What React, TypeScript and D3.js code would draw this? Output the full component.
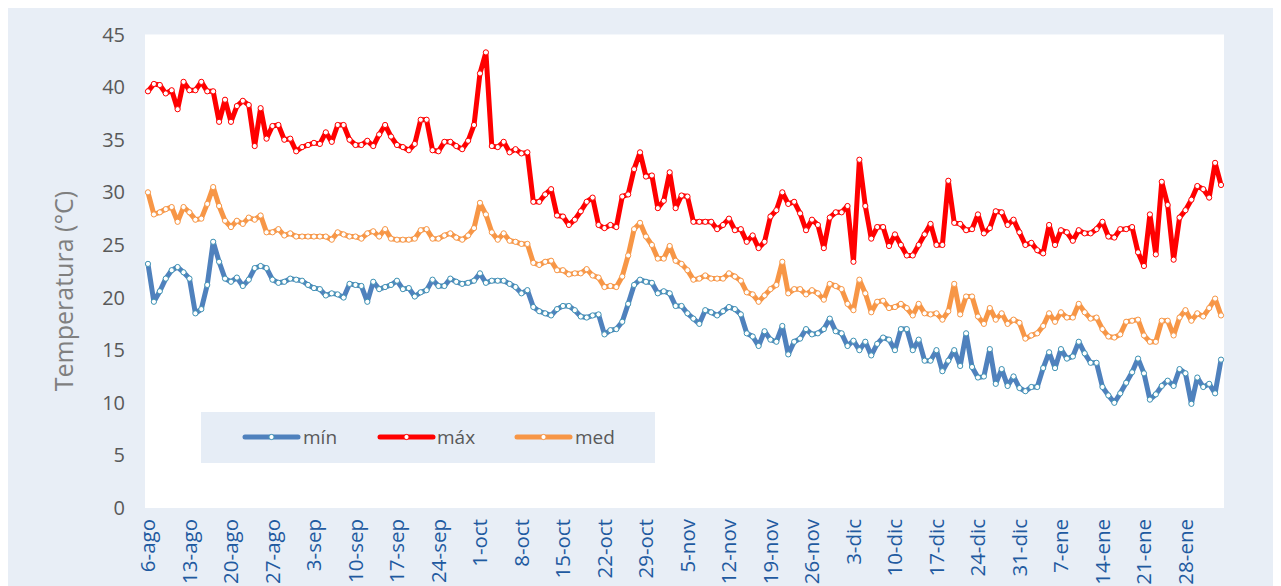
import * as d3 from "d3";

// temperaturas diarias, del 6-ago al 3-feb (182 días)
const minT = [
  23.2, 19.6, 20.6, 21.8, 22.6, 22.9, 22.4, 21.8, 18.5, 18.9, 21.2, 25.3, 23.4, 21.8, 21.5, 21.9, 21.1, 21.7, 22.8, 23.0, 22.8, 21.7, 21.4, 21.5, 21.8, 21.7, 21.6,
  21.2, 20.9, 20.8, 20.2, 20.4, 20.3, 20.0, 21.3, 21.2, 21.1, 19.6, 21.5, 20.8, 21.0, 21.2, 21.6, 20.8, 20.9, 20.1, 20.5, 20.7, 21.7, 21.1, 21.1, 21.8, 21.5,
  21.3, 21.4, 21.6, 22.3, 21.4, 21.6, 21.6, 21.6, 21.3, 21.0, 20.4, 20.7, 19.1, 18.7, 18.5, 18.3, 18.9, 19.2, 19.2, 18.8, 18.2, 18.1, 18.3, 18.4, 16.5, 16.9,
  17.0, 17.7, 19.4, 21.2, 21.7, 21.5, 21.4, 20.4, 20.6, 20.4, 19.2, 19.2, 18.5, 18.0, 17.5, 18.8, 18.6, 18.3, 18.7, 19.1, 18.9, 18.4, 16.6, 16.3, 15.4, 16.8,
  16.0, 15.8, 17.3, 14.6, 15.8, 16.1, 17.0, 16.5, 16.6, 17.0, 18.0, 16.8, 16.6, 15.4, 15.9, 15.0, 15.8, 14.5, 15.6, 16.2, 16.0, 15.0, 17.0, 17.0, 15.0, 16.0,
  14.0, 14.0, 15.0, 13.0, 14.0, 15.0, 13.5, 16.6, 13.4, 12.4, 12.5, 15.1, 11.8, 13.2, 11.6, 12.5, 11.4, 11.1, 11.5, 11.5, 13.3, 14.8, 13.3, 15.1, 14.2, 14.4,
  15.8, 14.7, 13.8, 13.8, 11.5, 10.7, 10.0, 10.9, 11.9, 12.9, 14.2, 12.8, 10.3, 10.8, 11.6, 12.1, 11.6, 13.2, 12.8, 9.9, 12.4, 11.5, 11.8, 10.9, 14.1,
];

const maxT = [
  39.6, 40.3, 40.2, 39.4, 39.7, 37.9, 40.5, 39.7, 39.7, 40.5, 39.6, 39.6, 36.7, 38.8, 36.7, 38.2, 38.7, 38.3, 34.4, 38.0, 35.1, 36.3, 36.4, 35.0, 35.1, 33.9, 34.3,
  34.5, 34.7, 34.6, 35.7, 34.8, 36.4, 36.4, 35.0, 34.5, 34.5, 34.9, 34.4, 35.5, 36.4, 35.3, 34.5, 34.3, 34.0, 34.6, 36.9, 36.9, 34.0, 33.9, 34.8, 34.8, 34.4,
  34.1, 34.9, 36.4, 41.3, 43.3, 34.4, 34.3, 34.8, 33.8, 34.1, 33.7, 33.8, 29.1, 29.1, 29.8, 30.3, 27.8, 27.7, 26.9, 27.4, 28.2, 29.1, 29.5, 26.9, 26.6, 26.9,
  26.7, 29.6, 29.8, 32.2, 33.8, 31.5, 31.6, 28.5, 29.2, 31.9, 28.5, 29.7, 29.6, 27.2, 27.2, 27.2, 27.2, 26.5, 26.9, 27.5, 26.4, 26.5, 25.3, 25.9, 24.7, 25.3,
  27.7, 28.3, 30.0, 28.9, 29.1, 28.0, 26.4, 27.4, 26.9, 24.7, 27.6, 28.1, 28.1, 28.7, 23.4, 33.1, 28.7, 25.6, 26.7, 26.7, 24.9, 26.0, 25.0, 24.0, 24.0, 25.0,
  26.0, 27.0, 25.0, 25.0, 31.1, 27.1, 27.0, 26.4, 26.5, 27.9, 26.1, 26.6, 28.2, 28.1, 26.9, 27.4, 26.2, 25.0, 25.2, 24.5, 24.2, 26.9, 25.0, 26.4, 26.2, 25.4,
  26.4, 26.1, 26.1, 26.5, 27.2, 25.8, 25.7, 26.5, 26.5, 26.7, 24.3, 23.0, 27.9, 24.1, 31.0, 28.8, 23.6, 27.6, 28.3, 29.3, 30.6, 30.3, 29.5, 32.8, 30.7,
];

const medT = [
  30.0, 27.9, 28.1, 28.4, 28.6, 27.2, 28.6, 28.1, 27.4, 27.5, 28.9, 30.5, 28.7, 27.3, 26.7, 27.3, 27.0, 27.6, 27.4, 27.8, 26.2, 26.2, 26.5, 25.9, 26.1, 25.8, 25.8,
  25.8, 25.8, 25.8, 25.8, 25.5, 26.2, 26.0, 25.8, 25.8, 25.6, 26.1, 26.3, 25.8, 26.5, 25.6, 25.5, 25.5, 25.5, 25.6, 26.4, 26.5, 25.6, 25.6, 25.9, 26.1, 25.7,
  25.5, 25.9, 26.6, 29.0, 27.9, 26.2, 25.5, 26.1, 25.4, 25.3, 25.1, 25.1, 23.3, 23.1, 23.4, 23.5, 22.6, 22.6, 22.2, 22.3, 22.3, 22.7, 22.1, 21.9, 21.0, 21.1,
  21.0, 22.0, 24.0, 26.5, 27.1, 25.8, 25.0, 23.7, 23.7, 24.9, 23.5, 23.2, 22.6, 21.7, 21.8, 22.1, 21.8, 21.8, 21.8, 22.3, 22.0, 21.6, 20.5, 20.3, 19.6, 20.2,
  20.8, 21.2, 23.4, 20.4, 20.8, 20.8, 20.3, 20.7, 20.4, 19.8, 21.3, 21.1, 20.8, 19.4, 18.8, 21.7, 20.4, 18.6, 19.6, 19.7, 19.0, 19.1, 19.4, 19.0, 18.3, 19.4,
  18.5, 18.4, 18.5, 17.9, 18.7, 21.3, 18.4, 20.1, 20.1, 18.2, 17.5, 19.0, 17.9, 18.5, 17.5, 17.9, 17.6, 16.1, 16.4, 16.6, 17.3, 18.5, 17.7, 18.6, 18.1, 18.1,
  19.4, 18.6, 18.0, 18.1, 17.0, 16.3, 16.2, 16.5, 17.7, 17.8, 17.9, 16.4, 15.8, 15.8, 17.8, 17.8, 16.4, 18.1, 18.8, 17.8, 18.5, 18.2, 19.0, 19.9, 18.3,
];

// una etiqueta cada 7 días
const tickLabels = [
  "6-ago", "13-ago", "20-ago", "27-ago", "3-sep", "10-sep", "17-sep", "24-sep", "1-oct",
  "8-oct", "15-oct", "22-oct", "29-oct", "5-nov", "12-nov", "19-nov", "26-nov", "3-dic",
  "10-dic", "17-dic", "24-dic", "31-dic", "7-ene", "14-ene", "21-ene", "28-ene",
];

const yTicks = [0, 5, 10, 15, 20, 25, 30, 35, 40, 45];

const series = [
  { name: "mín", values: minT, color: "#4f81bd", marker: "#3f93b4" },
  { name: "máx", values: maxT, color: "#ff0000", marker: "#ff0000" },
  { name: "med", values: medT, color: "#f79646", marker: "#f79646" },
];

const W = 1273;
const H = 578;
const plot = { left: 137, right: 1216, top: 26.5, bottom: 500 };
const FONT = "'Open Sans', 'Liberation Sans', sans-serif";

export default function App() {
  const days = d3.range(minT.length);

  const x = d3
    .scaleBand<number>()
    .domain(days)
    .range([plot.left, plot.right]);
  const cx = (i: number) => (x(i) ?? 0) + x.bandwidth() / 2;

  const y = d3.scaleLinear().domain([0, 45]).range([plot.bottom, plot.top]);

  const line = d3
    .line<number>()
    .x((_, i) => cx(i))
    .y((d) => y(d));

  const legendItems = [
    { x: 237, tx: 295 },
    { x: 372, tx: 429 },
    { x: 509, tx: 567 },
  ];

  return (
    <svg width={W} height={H} style={{ display: "block" }} fontFamily={FONT}>
      <rect x={0} y={0} width={W} height={H} fill="#e8eef6" />
      <rect
        x={plot.left}
        y={plot.top}
        width={plot.right - plot.left}
        height={plot.bottom - plot.top}
        fill="#ffffff"
      />

      {/* eje Y */}
      {yTicks.map((t) => (
        <text
          key={t}
          x={117}
          y={y(t)}
          dy="0.35em"
          textAnchor="end"
          fontSize={20}
          fill="#595959"
        >
          {t}
        </text>
      ))}
      <text
        transform="translate(56,283) rotate(-90)"
        textAnchor="middle"
        dy="0.35em"
        fontSize={25}
        fill="#7f7f7f"
      >
        Temperatura (°C)
      </text>

      {/* eje X */}
      {tickLabels.map((lab, k) => (
        <text
          key={lab}
          transform={`translate(${cx(k * 7)},${plot.bottom + 11}) rotate(-90)`}
          textAnchor="end"
          dy="0.35em"
          fontSize={20.5}
          fill="#1f5aa0"
        >
          {lab}
        </text>
      ))}

      {/* series */}
      {series.map((s) => (
        <g key={s.name}>
          <path
            d={line(s.values) ?? ""}
            fill="none"
            stroke={s.color}
            strokeWidth={5}
            strokeLinejoin="round"
            strokeLinecap="round"
          />
          {s.values.map((v, i) => (
            <circle
              key={i}
              cx={cx(i)}
              cy={y(v)}
              r={2.6}
              fill="#ffffff"
              stroke={s.marker}
              strokeWidth={1}
            />
          ))}
        </g>
      ))}

      {/* leyenda */}
      <rect x={193} y={404} width={454} height={51} fill="#e6edf6" />
      {series.map((s, k) => {
        const it = legendItems[k];
        return (
          <g key={s.name}>
            <line
              x1={it.x}
              x2={it.x + 53}
              y1={429}
              y2={429}
              stroke={s.color}
              strokeWidth={5}
              strokeLinecap="round"
            />
            <circle cx={it.x + 26.5} cy={429} r={2.6} fill="#fff" stroke={s.marker} strokeWidth={1} />
            <text x={it.tx} y={429} dy="0.35em" fontSize={19} fill="#595959">
              {s.name}
            </text>
          </g>
        );
      })}
    </svg>
  );
}
